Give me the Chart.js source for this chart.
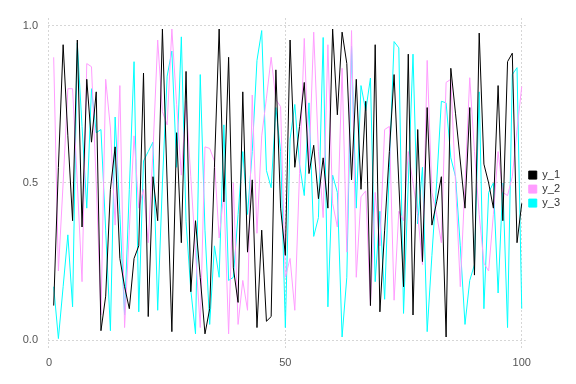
<!DOCTYPE html>
<html>
<head>
<meta charset="utf-8">
<script src="https://cdn.jsdelivr.net/npm/chart.js@4"></script>
<style>
  html, body { margin: 0; padding: 0; background: #fff; }
  #wrap { width: 576px; height: 384px; }
</style>
</head>
<body>
<div id="wrap"><canvas id="chart" width="576" height="384"></canvas></div>
<script>
const xs = Array.from({ length: 100 }, (_, i) => i + 1);

const y1 = [0.11, 0.55, 0.94, 0.65, 0.38, 0.955, 0.36, 0.83, 0.63, 0.79,
  0.03, 0.14, 0.48, 0.615, 0.26, 0.17, 0.10, 0.26, 0.30, 0.85,
  0.075, 0.52, 0.38, 0.99, 0.5, 0.027, 0.66, 0.31, 0.855, 0.154,
  0.38, 0.2, 0.02, 0.1, 0.55, 0.99, 0.44, 0.9, 0.23, 0.12,
  0.79, 0.28, 0.51, 0.04, 0.35, 0.06, 0.075, 0.86, 0.42, 0.27,
  0.955, 0.55, 0.68, 0.82, 0.53, 0.62, 0.45, 0.58, 0.42, 0.99,
  0.717, 0.98, 0.88, 0.51, 0.83, 0.48, 0.76, 0.11, 0.94, 0.09,
  0.35, 0.6, 0.845, 0.5, 0.17, 0.91, 0.08, 0.67, 0.25, 0.74,
  0.366, 0.44, 0.52, 0.01, 0.865, 0.72, 0.57, 0.42, 0.74, 0.207,
  0.977, 0.56, 0.5, 0.42, 0.81, 0.38, 0.886, 0.913, 0.31, 0.435];

const y2 = [0.90, 0.22, 0.5, 0.80, 0.80, 0.5, 0.186, 0.88, 0.87, 0.5,
  0.08, 0.83, 0.675, 0.366, 0.81, 0.04, 0.35, 0.65, 0.42, 0.48,
  0.31, 0.6, 0.955, 0.727, 0.685, 0.99, 0.75, 0.525, 0.76, 0.52,
  0.28, 0.04, 0.615, 0.61, 0.57, 0.325, 0.47, 0.02, 0.5, 0.05,
  0.19, 0.095, 0.78, 0.34, 0.65, 0.77, 0.9, 0.765, 0.743, 0.2,
  0.26, 0.095, 0.53, 0.96, 0.55, 0.98, 0.6, 0.39, 0.94, 0.435,
  0.36, 0.865, 0.28, 0.985, 0.2, 0.456, 0.475, 0.11, 0.47, 0.3,
  0.67, 0.68, 0.127, 0.41, 0.38, 0.6, 0.5, 0.4, 0.24, 0.89,
  0.47, 0.4, 0.31, 0.82, 0.83, 0.5, 0.17, 0.5, 0.835, 0.6,
  0.4, 0.245, 0.22, 0.4, 0.6, 0.47, 0.46, 0.52, 0.67, 0.807];

const y3 = [0.17, 0.005, 0.17, 0.335, 0.106, 0.945, 0.68, 0.42, 0.80, 0.66,
  0.67, 0.35, 0.03, 0.71, 0.4, 0.08, 0.48, 0.886, 0.09, 0.57,
  0.6, 0.63, 0.095, 0.5, 0.84, 0.92, 0.55, 0.965, 0.377, 0.16,
  0.02, 0.845, 0.35, 0.05, 0.30, 0.2, 0.685, 0.19, 0.2, 0.4,
  0.6, 0.4, 0.6, 0.89, 0.985, 0.54, 0.485, 0.74, 0.6, 0.04,
  0.64, 0.75, 0.56, 0.46, 0.755, 0.33, 0.39, 0.963, 0.106, 0.525,
  0.47, 0.01, 0.2, 0.935, 0.42, 0.81, 0.73, 0.834, 0.186, 0.41,
  0.13, 0.55, 0.95, 0.93, 0.085, 0.5, 0.91, 0.37, 0.55, 0.027,
  0.27, 0.5, 0.76, 0.755, 0.58, 0.52, 0.3, 0.05, 0.19, 0.24,
  0.79, 0.1, 0.47, 0.5, 0.15, 0.5, 0.04, 0.845, 0.867, 0.1];

const xTicks = [0, 50, 100];
const yTicks = [0, 0.5, 1.0];

const seriesNames = ["y_1", "y_2", "y_3"];
const seriesColors = ["#000000", "#ff9cff", "#00ffff"];
const seriesValues = [y1, y2, y3];

// dotted light grey grid, no axis lines
const gridStyle = {
  color: "#d6d6d6",
  lineWidth: 1,
  drawTicks: false,
  borderDash: [2, 2]
};
const borderStyle = { display: false, dash: [2, 2] };

const ctx = document.getElementById("chart").getContext("2d");

const chart = new Chart(ctx, {
  type: "line",
  data: {
    datasets: seriesValues.map((vals, i) => ({
      label: seriesNames[i],
      data: xs.map((x, j) => ({ x: x, y: vals[j] })),
      borderColor: seriesColors[i],
      backgroundColor: seriesColors[i],
      borderWidth: 1,
      pointRadius: 0,
      tension: 0
    }))
  },
  options: {
    responsive: false,
    animation: false,
    layout: { padding: { top: 18, right: 6, bottom: 0, left: 0 } },
    plugins: {
      tooltip: { enabled: false },
      legend: {
        position: "right",
        fullSize: false,
        // empty spacer title nudges the items down a little
        title: { display: true, text: " ", font: { size: 1 }, padding: { top: 11, bottom: 0 } },
        labels: {
          boxWidth: 8,
          boxHeight: 8,
          padding: 3,
          color: "#333",
          font: { family: "Liberation Sans", size: 11 }
        }
      }
    },
    scales: {
      x: {
        type: "linear",
        min: -0.2,
        max: 100.85,
        border: borderStyle,
        grid: gridStyle,
        afterBuildTicks: (axis) => { axis.ticks = xTicks.map(v => ({ value: v })); },
        afterFit: (axis) => { axis.height = 36; },
        ticks: {
          color: "#555",
          padding: 8,
          maxRotation: 0,
          font: { family: "Liberation Sans", size: 11 },
          callback: (v) => String(v)
        }
      },
      y: {
        type: "linear",
        min: -0.025,
        max: 1.025,
        border: borderStyle,
        grid: gridStyle,
        afterBuildTicks: (axis) => { axis.ticks = yTicks.map(v => ({ value: v })); },
        afterFit: (axis) => { axis.width = 48; },
        ticks: {
          color: "#555",
          padding: 10,
          font: { family: "Liberation Sans", size: 11 },
          callback: (v) => Number(v).toFixed(1)
        }
      }
    }
  }
});
</script>
</body>
</html>
